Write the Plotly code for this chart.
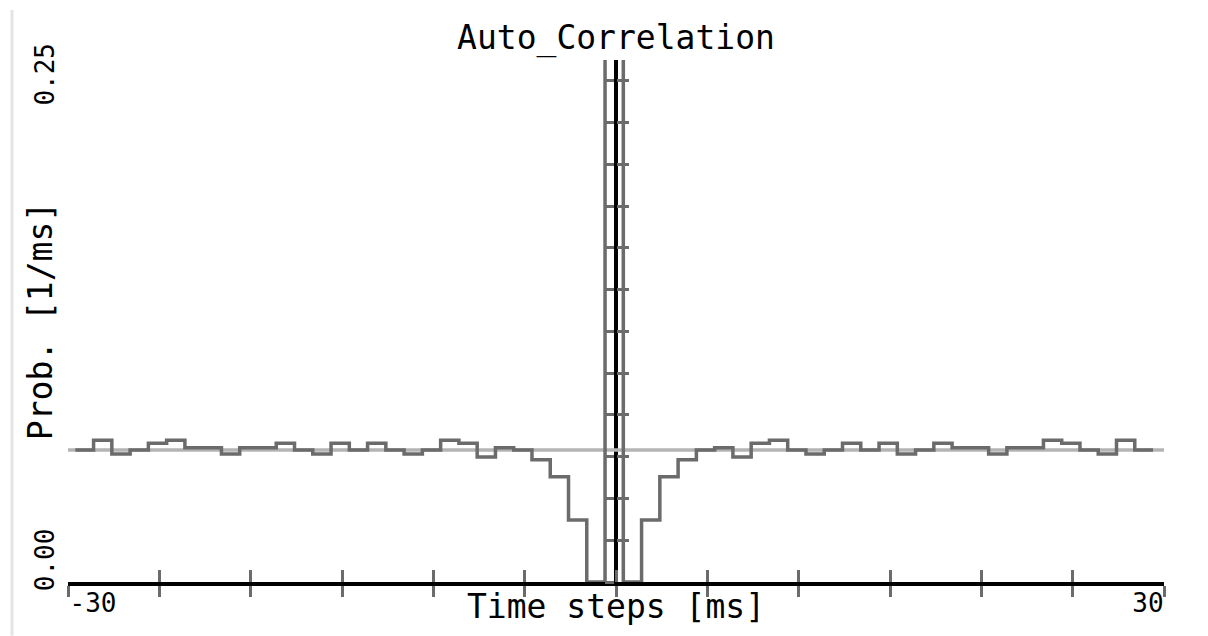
import plotly.graph_objects as go

# ---------------- data ----------------
# lag of each histogram bin in ms (bin width 1 ms)
lag_ms = list(range(-29, 30))
# auto-correlation probability per bin [1/ms] (lag 0 is off scale)
prob = [
    0.0632, 0.0679, 0.0613, 0.0632, 0.0664, 0.0679, 0.0643, 0.0643, 0.0613, 0.0643,
    0.0643, 0.0664, 0.0632, 0.0613, 0.0664, 0.0632, 0.0664, 0.0632, 0.0613, 0.0632,
    0.0679, 0.0664, 0.0599, 0.0643, 0.0632, 0.0586, 0.0504, 0.0297, 0.0000, 1.0000,
    0.0000, 0.0297, 0.0504, 0.0586, 0.0632, 0.0643, 0.0599, 0.0664, 0.0679, 0.0632,
    0.0613, 0.0632, 0.0664, 0.0632, 0.0664, 0.0613, 0.0632, 0.0664, 0.0643, 0.0643,
    0.0613, 0.0643, 0.0643, 0.0679, 0.0664, 0.0632, 0.0613, 0.0679, 0.0632,
]
mean_prob = 0.0632          # chance level (mean rate)
x_range = [-30, 30]
y_range = [0, 0.25]
x_tick_vals = [-30, -25, -20, -15, -10, -5, 0, 5, 10, 15, 20, 25, 30]
y_tick_vals = [0.00, 0.02, 0.04, 0.06, 0.08, 0.10, 0.12, 0.14, 0.16, 0.18, 0.20, 0.22, 0.24]

# ---------------- style ----------------
BIN_WIDTH = 1.0
BIN_SHIFT = -0.1            # display alignment of the bins used by the source tool
DARK = "#6b6b6b"
LIGHT = "#b4b4b4"
FONT = "DejaVu Sans Mono"

edges = [l + BIN_SHIFT - BIN_WIDTH / 2 for l in lag_ms] + [lag_ms[-1] + BIN_SHIFT + BIN_WIDTH / 2]
step_y = prob + [prob[-1]]

fig = go.Figure()
fig.add_trace(go.Scatter(x=x_range, y=[mean_prob, mean_prob], mode="lines",
                         line=dict(color=LIGHT, width=3.5), hoverinfo="skip"))
fig.add_trace(go.Scatter(x=edges, y=step_y, mode="lines", line_shape="hv",
                         line=dict(color=DARK, width=3.5)))
# empty traces so that the overlay axes (extra ticks / labels) get drawn
for xa, ya in [("x2", "y2"), ("x3", "y"), ("x4", "y"), ("x", "y3"), ("x", "y4"), ("x", "y5")]:
    fig.add_trace(go.Scatter(x=[], y=[], xaxis=xa, yaxis=ya, hoverinfo="skip"))

common_x = dict(range=x_range, showgrid=False, zeroline=False, fixedrange=True, automargin=False)
common_y = dict(range=y_range, showgrid=False, zeroline=False, fixedrange=True, automargin=False)
tick_font = dict(family=FONT, size=26, color="black")
title_font = dict(family=FONT, size=33, color="black")

fig.update_layout(
    width=1208, height=636,
    margin=dict(l=68, r=44, t=60, b=54),
    plot_bgcolor="white", paper_bgcolor="white",
    showlegend=False,
    title=dict(text="Auto_Correlation", x=616 / 1208, xanchor="center",
               y=1 - 37 / 636, yanchor="middle", font=title_font),
    xaxis=dict(**common_x, anchor="y", showline=True, linecolor="black", linewidth=3.5,
               ticks="outside", ticklen=11, tickwidth=3, tickcolor=DARK,
               tickmode="array", tickvals=x_tick_vals, showticklabels=False,
               layer="below traces",
               title=dict(text="Time steps [ms]", standoff=0, font=title_font)),
    xaxis2=dict(**common_x, overlaying="x", anchor="y", showline=False,
                ticks="inside", ticklen=12, tickwidth=3, tickcolor=DARK,
                tickmode="array", tickvals=x_tick_vals, showticklabels=False,
                layer="below traces"),
    xaxis3=dict(**common_x, overlaying="x", anchor="y", showline=False, ticks="",
                tickmode="array", tickvals=[x_range[0]], ticktext=["-30"],
                ticklabelshift=25, ticklabelstandoff=3, tickfont=tick_font),
    xaxis4=dict(**common_x, overlaying="x", anchor="y", showline=False, ticks="",
                tickmode="array", tickvals=[x_range[1]], ticktext=["30"],
                ticklabelshift=-16, ticklabelstandoff=3, tickfont=tick_font),
    yaxis=dict(**common_y, anchor="free", position=0.5, showline=True,
               linecolor="black", linewidth=3.5,
               ticks="outside", ticklen=9, tickwidth=3, tickcolor=DARK,
               tickmode="array", tickvals=y_tick_vals, showticklabels=False,
               layer="below traces"),
    yaxis2=dict(**common_y, overlaying="y", anchor="free", position=0.5, showline=False,
                ticks="inside", ticklen=12, tickwidth=3, tickcolor=DARK,
                tickmode="array", tickvals=y_tick_vals, showticklabels=False,
                layer="below traces"),
    yaxis3=dict(**common_y, overlaying="y", anchor="free", position=0, side="left",
                showline=False, ticks="", tickmode="array", tickvals=[y_range[0]],
                ticktext=["0.00"], tickangle=-90, ticklabelposition="outside top",
                ticklabelstandoff=9, tickfont=tick_font),
    yaxis4=dict(**common_y, overlaying="y", anchor="free", position=0, side="left",
                showline=False, ticks="", tickmode="array", tickvals=[y_range[1]],
                ticktext=["0.25"], tickangle=-90, ticklabelposition="outside bottom",
                ticklabelstandoff=9, tickfont=tick_font),
    yaxis5=dict(**common_y, overlaying="y", anchor="free", position=0, side="left",
                showline=False, ticks="", showticklabels=False,
                title=dict(text="Prob. [1/ms]", standoff=4, font=title_font)),
    shapes=[dict(type="line", xref="paper", yref="paper", x0=-0.0511, x1=-0.0511,
                 y0=-0.103, y1=1.096, line=dict(color="#e4e4e4", width=3))],
)

fig.write_html("out.html")
